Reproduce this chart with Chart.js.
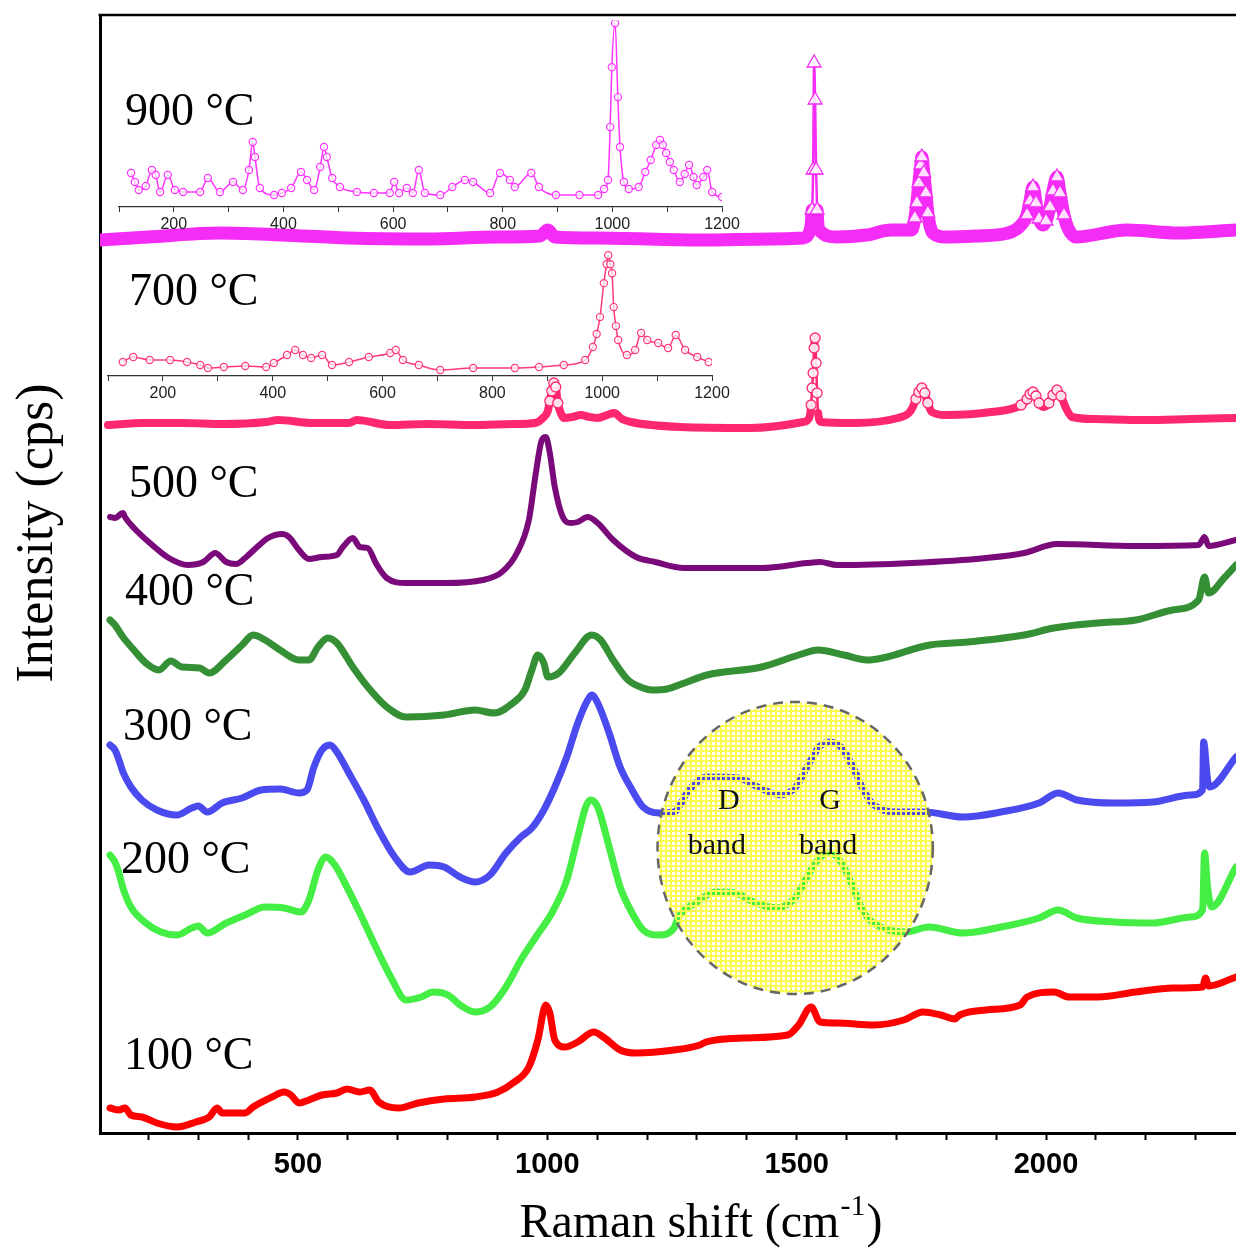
<html>
<head>
<title>Raman spectra vs temperature</title>
<script src="https://cdn.jsdelivr.net/npm/chart.js"></script>
<style>
  body { margin: 0; background: #fff; }
  #wrap { position: relative; width: 1236px; height: 1249px; }
  #wrap canvas { position: absolute; }
</style>
</head>
<body>
<div id="wrap">
  <canvas id="main" width="1236" height="1249" style="left:0;top:0"></canvas>
  <canvas id="inset900" width="640" height="225" style="left:109px;top:15px"></canvas>
  <canvas id="inset700" width="640" height="165" style="left:98px;top:245px"></canvas>
</div>
<script>
// Raman shift (cm-1), stacked intensity (a.u., offset per temperature)
const s900 = [[103,893],[200,896],[344,900],[468,898],[600,895],[760,894],[900,896],[985,897],[1001,903],[1015,896],[1101,895],[1306,893],[1450,894],[1513,895],[1527,903],[1531,923],[1533,963],[1535,1070],[1537,1033],[1539,963],[1541,923],[1545,903],[1581,896],[1640,898],[1689,903],[1731,903],[1737,915],[1741,930],[1745,950],[1749,968],[1751,976],[1755,960],[1759,940],[1763,920],[1767,908],[1773,900],[1799,896],[1860,897],[1924,900],[1950,908],[1962,918],[1968,932],[1974,946],[1980,930],[1986,914],[1994,908],[2000,912],[2008,926],[2014,942],[2022,956],[2028,940],[2036,918],[2044,905],[2060,896],[2162,903],[2266,900],[2381,903]];

const s700 = [[119,708],[190,710],[269,710],[350,709],[436,711],[460,713],[530,710],[602,710],[618,713],[684,708],[760,709],[851,708],[930,709],[975,710],[993,716],[1001,722],[1005,732],[1009,742],[1013,750],[1017,746],[1021,730],[1027,720],[1033,715],[1050,716],[1067,718],[1085,716],[1101,715],[1120,718],[1134,720],[1150,714],[1168,711],[1266,706],[1406,705],[1513,711],[1525,715],[1529,728],[1531,745],[1533,760],[1535,785],[1537,795],[1539,770],[1541,740],[1543,720],[1549,711],[1615,710],[1703,715],[1725,720],[1733,726],[1739,734],[1745,741],[1751,745],[1757,740],[1763,730],[1771,721],[1799,718],[1890,721],[1950,728],[1962,734],[1968,739],[1974,741],[1980,737],[1986,730],[1994,726],[2006,730],[2014,738],[2022,743],[2030,737],[2040,725],[2052,716],[2100,714],[2196,713],[2290,714],[2381,715]];

const s500 = [[123,616],[133,615],[149,620],[153,616],[171,605],[203,590],[241,575],[279,568],[310,571],[334,580],[356,571],[376,569],[394,575],[418,586],[440,595],[468,599],[482,596],[502,583],[522,574],[548,576],[578,578],[590,586],[610,595],[624,586],[640,585],[656,570],[678,555],[717,550],[793,550],[871,553],[909,561],[939,580],[963,613],[977,660],[989,693],[997,696],[1005,680],[1015,646],[1031,616],[1047,610],[1061,611],[1081,616],[1101,610],[1132,593],[1178,576],[1216,571],[1274,565],[1430,565],[1521,570],[1547,571],[1581,568],[1731,570],[1880,575],[1956,580],[2022,589],[2180,587],[2306,588],[2318,596],[2326,587],[2381,593]];

const s400 = [[123,513],[133,508],[149,496],[171,483],[195,470],[221,463],[245,472],[267,466],[303,465],[322,460],[356,473],[388,488],[410,498],[434,493],[464,483],[502,473],[522,473],[540,486],[560,495],[578,490],[610,466],[640,446],[678,426],[717,416],[793,418],[855,423],[893,420],[931,430],[955,443],[969,463],[981,478],[993,470],[1001,456],[1023,460],[1055,480],[1089,498],[1107,493],[1132,473],[1162,453],[1192,445],[1210,443],[1240,444],[1275,450],[1320,458],[1430,466],[1504,478],[1543,483],[1595,478],[1641,473],[1767,488],[1843,491],[1956,498],[2016,505],[2104,510],[2180,513],[2254,523],[2306,533],[2318,556],[2326,540],[2359,556],[2381,568]];

const s300 = [[123,388],[133,383],[141,373],[149,361],[165,346],[187,333],[217,323],[257,318],[287,325],[300,327],[318,321],[348,330],[388,335],[426,343],[464,344],[502,340],[518,343],[532,366],[548,383],[564,388],[578,381],[602,360],[632,333],[662,303],[694,276],[725,261],[763,268],[793,266],[825,256],[855,251],[885,258],[917,280],[947,296],[969,305],[993,323],[1015,346],[1039,376],[1061,410],[1081,433],[1089,438],[1101,430],[1124,400],[1146,366],[1170,343],[1192,326],[1224,320],[1254,321],[1284,343],[1320,356],[1384,355],[1422,346],[1468,338],[1498,346],[1521,366],[1545,386],[1567,391],[1589,386],[1613,366],[1631,346],[1651,330],[1703,321],[1757,321],[1833,316],[1910,321],[1986,330],[2024,340],[2062,333],[2138,330],[2214,331],[2290,338],[2314,343],[2316,391],[2324,353],[2328,346],[2381,376]];

const s200 = [[123,278],[133,271],[141,260],[149,245],[165,226],[195,210],[225,201],[257,198],[287,205],[300,207],[318,200],[356,210],[394,218],[434,226],[472,225],[506,221],[522,233],[540,263],[556,276],[574,268],[594,250],[624,220],[656,186],[686,156],[717,133],[747,136],[771,141],[801,138],[825,128],[855,121],[885,126],[917,146],[947,173],[977,196],[1009,220],[1039,253],[1061,296],[1077,326],[1087,333],[1101,326],[1124,286],[1146,246],[1170,220],[1192,203],[1224,198],[1254,205],[1262,215],[1300,231],[1338,241],[1376,240],[1414,231],[1460,225],[1498,236],[1521,256],[1545,275],[1567,280],[1589,271],[1613,246],[1635,220],[1673,205],[1719,201],[1765,206],[1833,200],[1910,206],[1986,215],[2024,223],[2062,215],[2138,211],[2214,210],[2290,216],[2314,223],[2318,280],[2324,246],[2332,226],[2381,266]];

const s100 = [[123,25],[141,23],[153,25],[165,18],[187,16],[217,10],[257,6],[295,11],[322,16],[338,25],[348,20],[394,20],[410,26],[448,36],[472,41],[486,38],[502,30],[522,33],[548,38],[578,40],[598,44],[624,41],[644,43],[662,31],[702,25],[741,30],[793,34],[855,36],[901,41],[931,50],[963,66],[981,93],[997,128],[1005,120],[1015,93],[1035,86],[1061,91],[1093,101],[1115,95],[1146,83],[1178,80],[1254,83],[1306,88],[1318,91],[1392,95],[1482,98],[1504,108],[1529,126],[1547,111],[1581,110],[1655,108],[1715,113],[1753,121],[1789,118],[1817,114],[1827,118],[1880,123],[1948,128],[1962,136],[2016,141],[2046,136],[2104,136],[2180,141],[2254,145],[2314,146],[2320,155],[2326,147],[2381,156]];

// insets: 100-1200 cm-1 detail
const inset900 = [[122,34],[129,25],[136,17],[149,21],[160,37],[167,32],[175,15],[189,32],[202,17],[217,15],[248,15],[262,29],[284,15],[308,25],[326,17],[337,37],[344,65],[348,50],[357,19],[383,12],[397,14],[414,19],[432,35],[443,27],[456,17],[467,40],[474,60],[479,50],[489,29],[503,20],[534,15],[565,14],[594,14],[602,25],[611,14],[625,19],[636,14],[647,37],[658,14],[686,12],[708,20],[731,27],[746,25],[777,14],[795,34],[813,27],[822,20],[852,34],[866,20],[897,12],[940,12],[974,12],[985,18],[992,27],[996,80],[999,140],[1005,184],[1010,110],[1014,60],[1021,25],[1030,18],[1048,20],[1060,35],[1070,47],[1080,62],[1087,67],[1092,62],[1098,54],[1105,45],[1112,37],[1123,25],[1132,33],[1140,42],[1148,30],[1154,22],[1166,30],[1173,37],[1182,15],[1200,10]];

const inset700 = [[127,14],[146,19],[176,16],[213,16],[244,14],[268,11],[282,8],[311,9],[350,10],[388,9],[402,13],[426,21],[441,26],[455,21],[470,18],[490,21],[508,11],[539,14],[575,19],[614,23],[624,26],[637,16],[666,11],[705,6],[765,8],[841,8],[885,9],[930,11],[969,16],[983,29],[990,42],[996,59],[1003,93],[1008,112],[1011,121],[1015,112],[1018,103],[1021,69],[1025,50],[1029,36],[1045,21],[1060,26],[1071,43],[1082,36],[1102,33],[1120,28],[1134,41],[1151,26],[1173,19],[1194,14]];

const tempLabels = [
  ['900 \u00B0C', 153, 1008], ['700 \u00B0C', 161, 828], ['500 \u00B0C', 161, 636],
  ['400 \u00B0C', 153, 528], ['300 \u00B0C', 149, 393], ['200 \u00B0C', 145, 260],
  ['100 \u00B0C', 151, 64]
];
const bandLabels = [['D', 1364, 324], ['G', 1567, 324], ['band', 1340, 279], ['band', 1563, 279]];
const circle = { x: 1497, y: 285, rx: 276, ry: 146 };

const SERIF = '"Liberation Serif", "Times New Roman", serif';
const SANS = '"Liberation Sans", Arial, sans-serif';

function median(pts) {
  const s = pts.map(p => p[1]).sort((a, b) => a - b);
  return s[Math.floor(s.length / 2)];
}

function spectrum(pts, color, width, marker, markerSize) {
  const thr = median(pts) + 6;
  return {
    data: pts.map(p => ({x: p[0], y: p[1]})),
    showLine: true,
    borderColor: color,
    borderWidth: width,
    borderJoinStyle: 'round',
    borderCapStyle: 'round',
    cubicInterpolationMode: 'monotone',
    pointStyle: marker || 'circle',
    pointRadius: ctx => (marker && ctx.raw && ctx.raw.y > thr) ? markerSize : 0,
    pointBackgroundColor: 'rgba(255,255,255,0.85)',
    pointBorderColor: color,
    pointBorderWidth: 1.3,
    segment: {
      borderWidth: c => (marker && Math.abs(c.p1.y - c.p0.y) > 15 * Math.abs(c.p1.x - c.p0.x)) ? 2.5 : width
    }
  };
}

function gridPattern() {
  const t = document.createElement('canvas');
  t.width = 5; t.height = 5;
  const g = t.getContext('2d');
  g.fillStyle = 'rgb(250,250,80)';
  g.fillRect(0, 0, 5, 5);
  g.clearRect(2, 2, 3, 3);
  return t;
}

const decor = {
  id: 'decor',
  afterDatasetsDraw(chart) {
    const {ctx, chartArea: a, scales: {x, y}} = chart;
    ctx.save();

    // highlighted D/G region: yellow grid, curves show through the cells
    const cx = x.getPixelForValue(circle.x), cy = y.getPixelForValue(circle.y);
    const rx = x.getPixelForValue(circle.x + circle.rx) - cx;
    const ry = cy - y.getPixelForValue(circle.y + circle.ry);
    ctx.beginPath();
    ctx.ellipse(cx, cy, rx, ry, 0, 0, Math.PI * 2);
    ctx.fillStyle = ctx.createPattern(gridPattern(), 'repeat');
    ctx.fill();
    ctx.setLineDash([10, 7]);
    ctx.lineWidth = 2.5;
    ctx.strokeStyle = '#666';
    ctx.stroke();
    ctx.setLineDash([]);

    ctx.fillStyle = '#111';
    ctx.font = '30px ' + SERIF;
    ctx.textAlign = 'center';
    ctx.textBaseline = 'alphabetic';
    bandLabels.forEach(l => ctx.fillText(l[0], x.getPixelForValue(l[1]), y.getPixelForValue(l[2])));

    ctx.fillStyle = '#000';
    ctx.font = '46px ' + SERIF;
    ctx.textAlign = 'left';
    tempLabels.forEach(l => ctx.fillText(l[0], x.getPixelForValue(l[1]), y.getPixelForValue(l[2])));

    // top frame line
    ctx.beginPath();
    ctx.moveTo(a.left - 1.5, a.top);
    ctx.lineTo(a.right, a.top);
    ctx.lineWidth = 2.5;
    ctx.strokeStyle = '#000';
    ctx.stroke();

    // x title with superscript
    const main = 'Raman shift (cm', sup = '-1', end = ')';
    ctx.font = '48px ' + SERIF;
    const w1 = ctx.measureText(main).width, w3 = ctx.measureText(end).width;
    ctx.font = '30px ' + SERIF;
    const w2 = ctx.measureText(sup).width;
    let tx = x.getPixelForValue(1306) - (w1 + w2 + w3) / 2;
    const ty = x.bottom - 12;
    ctx.textAlign = 'left';
    ctx.font = '48px ' + SERIF;
    ctx.fillText(main, tx, ty);
    ctx.font = '30px ' + SERIF;
    ctx.fillText(sup, tx + w1 + 1, ty - 22);
    ctx.font = '48px ' + SERIF;
    ctx.fillText(end, tx + w1 + w2 + 2, ty);

    // y title
    ctx.translate(a.left - 62, y.getPixelForValue(600));
    ctx.rotate(-Math.PI / 2);
    ctx.textAlign = 'center';
    ctx.textBaseline = 'middle';
    ctx.font = '52px ' + SERIF;
    ctx.fillText('Intensity (cps)', 0, 0);
    ctx.restore();
  }
};

new Chart(document.getElementById('main'), {
  type: 'scatter',
  data: {
    datasets: [
      spectrum(s900, '#f52cf5', 13, 'triangle', 8),
      spectrum(s700, '#ff2870', 8, 'circle', 5),
      spectrum(s500, '#7a0a7a', 6),
      spectrum(s400, '#359035', 7),
      spectrum(s300, '#4a4aee', 7),
      spectrum(s200, '#44ee44', 7),
      spectrum(s100, '#ff0000', 7)
    ]
  },
  options: {
    responsive: false,
    animation: false,
    layout: { padding: { top: 15, right: 0, left: 0, bottom: 0 } },
    plugins: { legend: { display: false }, tooltip: { enabled: false } },
    scales: {
      x: {
        type: 'linear', min: 103, max: 2381,
        afterFit: s => { s.height = 116; },
        border: { display: true, width: 3, color: '#000' },
        grid: { drawOnChartArea: false, drawTicks: true, tickLength: 7, tickWidth: 2, tickColor: '#000' },
        ticks: {
          stepSize: 100, autoSkip: false, maxRotation: 0, includeBounds: false,
          callback: v => v % 500 === 0 ? String(v) : '',
          font: { family: SANS, size: 29, weight: 'bold' }, color: '#000', padding: 8
        }
      },
      y: {
        min: 0, max: 1118,
        afterFit: s => { s.width = 100; },
        border: { display: true, width: 3, color: '#000' },
        grid: { display: false },
        ticks: { display: false }
      }
    }
  },
  plugins: [decor]
});

function inset(id, pts, color, yMax, padRight, axisH) {
  new Chart(document.getElementById(id), {
    type: 'scatter',
    data: {
      datasets: [{
        data: pts.map(p => ({x: p[0], y: p[1]})),
        showLine: true,
        borderColor: color,
        borderWidth: 1.5,
        cubicInterpolationMode: 'monotone',
        pointStyle: 'circle',
        pointRadius: 3.6,
        pointBorderWidth: 1.2,
        pointBorderColor: color,
        pointBackgroundColor: 'rgba(255,255,255,0.7)'
      }]
    },
    options: {
      responsive: false,
      animation: false,
      layout: { padding: { left: 10, right: padRight, top: 5, bottom: 0 } },
      plugins: { legend: { display: false }, tooltip: { enabled: false } },
      scales: {
        x: {
          type: 'linear', min: 100, max: 1200,
          afterFit: s => { s.height = axisH; },
          border: { color: '#333', width: 1.2 },
          grid: { drawOnChartArea: false, tickLength: 5, color: '#333' },
          ticks: {
            stepSize: 100, autoSkip: false, maxRotation: 0, includeBounds: false,
            callback: v => v % 200 === 0 ? String(v) : '',
            font: { family: SANS, size: 16 }, color: '#222', padding: 3
          }
        },
        y: { display: false, min: 0, max: yMax }
      }
    }
  });
}

inset('inset900', inset900, '#ff33ff', 187, 27, 33);
inset('inset700', inset700, '#ff3a7a', 126, 26, 34);
</script>
</body>
</html>
